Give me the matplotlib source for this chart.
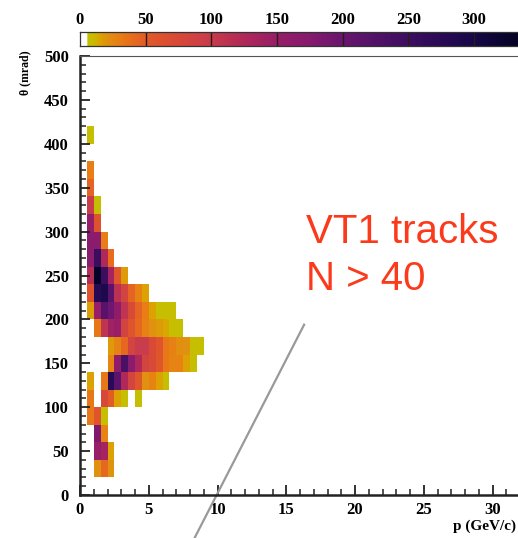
import matplotlib.pyplot as plt
import numpy as np
from matplotlib.colors import LinearSegmentedColormap

# momentum bins (GeV/c) and theta bins (mrad)
p_edges = np.arange(0, 32.5, 0.5)
theta_edges = np.arange(0, 520, 20)

# counts per theta row (lower edge, mrad); columns start at p = 0.5 GeV/c, 0.5 wide
rows = {
    400: [7],
    360: [30],
    340: [45],
    320: [100, 7],
    300: [150, 60],
    280: [170, 170, 30],
    260: [165, 255, 125, 40],
    240: [120, 330, 250, 135, 55, 18],
    220: [60, 280, 290, 215, 115, 85, 45, 28, 15],
    200: [16, 148, 220, 195, 160, 110, 72, 45, 30, 15, 7, 7, 7],
    180: [0, 33, 110, 140, 148, 85, 58, 42, 28, 20, 18, 14, 7, 7],
    160: [0, 0, 0, 18, 27, 42, 85, 100, 100, 72, 58, 33, 28, 22, 20, 7, 7],
    140: [0, 0, 0, 27, 158, 235, 170, 125, 85, 72, 55, 33, 27, 27, 15, 7],
    120: [15, 0, 33, 275, 215, 125, 85, 55, 20, 27, 15, 7],
    100: [33, 0, 75, 50, 15, 7, 0, 7],
    80: [33, 58, 7],
    60: [0, 180, 27],
    40: [0, 148, 135, 15],
    20: [0, 20, 42, 20],
}

cbar_max = 335
cbar_ticks = [0, 50, 100, 150, 200, 250, 300]

# palette anchors (value, colour)
palette = [
    (0, '#ffffff'), (4, '#ffffff'), (5, '#c4c000'), (9, '#c8bc00'),
    (14, '#dca400'), (20, '#e09010'), (28, '#e88014'), (38, '#e86e1c'),
    (50, '#e25a28'), (75, '#d84838'), (100, '#c83c4c'), (125, '#b02858'),
    (150, '#961e68'), (175, '#861a6e'), (200, '#6a1670'), (225, '#521268'),
    (250, '#3e0e60'), (275, '#2a0a56'), (300, '#160848'), (335, '#040224'),
]
cmap = LinearSegmentedColormap.from_list(
    'pal', [(v / cbar_max, c) for v, c in palette])

# fill the histogram
H = np.zeros((len(theta_edges) - 1, len(p_edges) - 1))
for th, vals in rows.items():
    for i, v in enumerate(vals):
        H[th // 20, 1 + i] = v
H = np.ma.masked_equal(H, 0)

plt.rcParams['font.family'] = ['Liberation Serif', 'DejaVu Serif']
plt.rcParams['font.weight'] = 'bold'

fig = plt.figure(figsize=(5.18, 5.38), dpi=100)
ax = fig.add_axes([80 / 518, 1 - 495 / 538, 440 / 518, 439 / 538])
ax.pcolormesh(p_edges, theta_edges, H, cmap=cmap, vmin=0, vmax=cbar_max)

ax.set_xlim(0, 32)
ax.set_ylim(0, 500)
ax.set_xticks(np.arange(0, 35, 5))
ax.set_xticks(np.arange(0, 33, 1), minor=True)
ax.set_yticks(np.arange(0, 550, 50))
ax.set_yticks(np.arange(0, 510, 10), minor=True)
ax.tick_params(which='both', direction='in', top=False, right=False,
               labelsize=12, color='#222222')
ax.tick_params(which='major', length=7, width=1.3)
ax.tick_params(which='minor', length=4, width=1.1)
ax.tick_params(axis='y', pad=8)
ax.tick_params(axis='x', pad=5)
for s in ['left', 'bottom']:
    ax.spines[s].set_linewidth(1.8)
    ax.spines[s].set_color('#222222')
ax.spines['top'].set_linewidth(0.8)
ax.spines['top'].set_color('#555555')
ax.spines['right'].set_visible(False)

# cut line
ax.plot([8.2, 16.3], [-53, 194], color='#999999', lw=1.6, clip_on=False)

fig.text(516 / 518, 1 - 526 / 538, 'p (GeV/c)', ha='right', va='center',
         fontsize=11, fontweight='bold')
fig.text(25 / 518, 1 - 73 / 538, 'θ (mrad)', rotation=90, ha='center',
         va='center', fontsize=8.5, fontweight='bold')

label_font = ['Liberation Sans', 'DejaVu Sans']
fig.text(306 / 518, 1 - 242.7 / 538, 'VT1 tracks', ha='left', va='baseline',
         fontsize=29, color='#fb3a1c', fontweight='normal', family=label_font)
fig.text(306 / 518, 1 - 290 / 538, 'N > 40', ha='left', va='baseline',
         fontsize=29, color='#fb3a1c', fontweight='normal', family=label_font)

# colour bar on top
cax = fig.add_axes([80 / 518, 1 - 46 / 538, 440 / 518, 14 / 538])
grad = np.linspace(0, cbar_max, 600)[None, :]
cax.imshow(grad, aspect='auto', cmap=cmap, vmin=0, vmax=cbar_max,
           extent=[0, cbar_max, 0, 1])
for t in cbar_ticks[1:]:
    cax.axvline(t, color='#2a1a1a', lw=1.0)
cax.set_xlim(0, 335)
cax.set_yticks([])
cax.set_xticks(cbar_ticks)
cax.xaxis.tick_top()
cax.tick_params(axis='x', length=0, pad=3, labelsize=12)
for s in cax.spines.values():
    s.set_linewidth(0.9)
    s.set_color('#333333')

fig.savefig('out.png', dpi=100)
